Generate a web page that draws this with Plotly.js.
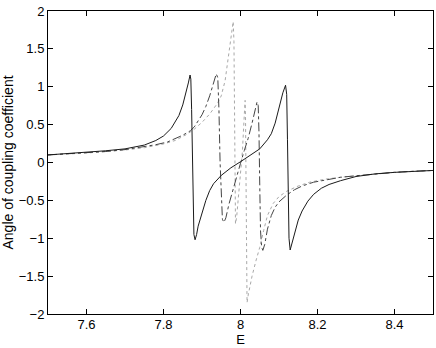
<!DOCTYPE html>
<html>
<head>
<meta charset="utf-8">
<script src="https://cdn.plot.ly/plotly-3.0.1.min.js"></script>
<style>
  body { margin: 0; background: #fff; }
  #plot { width: 436px; height: 348px; }
</style>
</head>
<body>
<div id="plot"></div>
<script>
// solid curve
const solidE = [7.50, 7.55, 7.60, 7.65, 7.70, 7.75, 7.78, 7.80, 7.82, 7.84, 7.85, 7.856, 7.8645, 7.869, 7.871, 7.873, 7.875, 7.877, 7.879, 7.882, 7.886, 7.89, 7.90, 7.91, 7.92, 7.93, 7.95, 7.975, 8.00, 8.025, 8.05, 8.07, 8.08, 8.09, 8.10, 8.11, 8.117, 8.120, 8.122, 8.124, 8.126, 8.129, 8.133, 8.14, 8.15, 8.16, 8.175, 8.19, 8.21, 8.23, 8.26, 8.30, 8.35, 8.40, 8.45, 8.50];
const solidAngle = [0.10, 0.115, 0.13, 0.155, 0.18, 0.23, 0.29, 0.35, 0.45, 0.62, 0.76, 0.87, 1.05, 1.155, 1.10, 0.7, 0.0, -0.6, -0.95, -1.02, -0.95, -0.84, -0.66, -0.50, -0.37, -0.28, -0.17, -0.07, 0.01, 0.09, 0.18, 0.30, 0.38, 0.52, 0.72, 0.92, 1.02, 0.9, 0.3, -0.5, -1.0, -1.155, -1.08, -0.92, -0.76, -0.64, -0.51, -0.42, -0.34, -0.29, -0.24, -0.185, -0.15, -0.13, -0.115, -0.105];

// dash-dot curve
const dashE = [7.50, 7.60, 7.65, 7.70, 7.74, 7.78, 7.81, 7.83, 7.85, 7.87, 7.88, 7.89, 7.90, 7.91, 7.92, 7.93, 7.937, 7.941, 7.944, 7.947, 7.950, 7.953, 7.957, 7.962, 7.97, 7.98, 7.99, 8.00, 8.01, 8.02, 8.03, 8.038, 8.043, 8.046, 8.048, 8.050, 8.052, 8.055, 8.058, 8.063, 8.07, 8.08, 8.09, 8.10, 8.12, 8.14, 8.16, 8.19, 8.22, 8.26, 8.30, 8.35, 8.40, 8.45, 8.50];
const dashAngle = [0.10, 0.125, 0.145, 0.17, 0.20, 0.235, 0.27, 0.31, 0.36, 0.42, 0.47, 0.55, 0.63, 0.74, 0.88, 1.05, 1.17, 1.12, 0.7, 0.0, -0.5, -0.75, -0.79, -0.73, -0.55, -0.36, -0.18, -0.01, 0.16, 0.32, 0.52, 0.69, 0.80, 0.75, 0.4, -0.3, -0.9, -1.12, -1.16, -1.08, -0.88, -0.70, -0.59, -0.52, -0.43, -0.36, -0.31, -0.26, -0.23, -0.195, -0.175, -0.15, -0.13, -0.115, -0.105];

// dotted curve
const dotE = [7.50, 7.60, 7.70, 7.75, 7.80, 7.83, 7.86, 7.88, 7.90, 7.92, 7.94, 7.95, 7.96, 7.97, 7.977, 7.981, 7.983, 7.985, 7.986, 7.987, 7.99, 7.995, 8.00, 8.005, 8.009, 8.012, 8.013, 8.014, 8.015, 8.017, 8.02, 8.03, 8.04, 8.05, 8.06, 8.07, 8.085, 8.10, 8.12, 8.15, 8.18, 8.22, 8.26, 8.30, 8.40, 8.50];
const dotAngle = [0.10, 0.125, 0.165, 0.195, 0.245, 0.29, 0.37, 0.44, 0.53, 0.64, 0.78, 0.88, 1.08, 1.42, 1.70, 1.86, 1.6, 0.5, -0.3, -0.81, -0.72, -0.45, -0.2, 0.15, 0.55, 0.82, 0.6, -0.3, -1.2, -1.85, -1.75, -1.50, -1.30, -1.12, -0.90, -0.70, -0.54, -0.45, -0.38, -0.31, -0.26, -0.22, -0.195, -0.175, -0.13, -0.105];

const xTicks = [7.6, 7.8, 8, 8.2, 8.4];
const xTickText = ['7.6', '7.8', '8', '8.2', '8.4'];
const yTicks = [-2, -1.5, -1, -0.5, 0, 0.5, 1, 1.5, 2];
const yTickText = ['\u22122', '\u22121.5', '\u22121', '\u22120.5', '0', '0.5', '1', '1.5', '2'];

function curve(xs, ys, colour, dash) {
    return {
        x: xs,
        y: ys,
        type: 'scatter',
        mode: 'lines',
        line: {color: colour, width: 1, dash: dash},
        hoverinfo: 'skip',
    };
}

const data = [
    curve(dotE, dotAngle, '#a8a8a8', 'dot'),
    curve(dashE, dashAngle, '#444444', 'dashdot'),
    curve(solidE, solidAngle, '#1a1a1a', 'solid'),
];

const axisCommon = {
    showline: true,
    linecolor: '#000',
    linewidth: 1,
    mirror: 'ticks',
    ticks: 'inside',
    ticklen: 5,
    tickcolor: '#000',
    showgrid: false,
    zeroline: false,
    tickfont: {family: 'Liberation Sans, Arial, sans-serif', size: 13, color: '#000'},
};

const layout = {
    width: 436,
    height: 348,
    margin: {l: 48, r: 3, t: 11, b: 34},
    paper_bgcolor: '#fff',
    plot_bgcolor: '#fff',
    showlegend: false,
    font: {family: 'Liberation Sans, Arial, sans-serif', size: 13, color: '#000'},
    xaxis: Object.assign({}, axisCommon, {
        range: [7.5, 8.5],
        tickvals: xTicks,
        ticktext: xTickText,
        ticklabelstandoff: -2,
        title: {text: 'E', standoff: 3, font: {size: 13}},
    }),
    yaxis: Object.assign({}, axisCommon, {
        range: [-2, 2],
        tickvals: yTicks,
        ticktext: yTickText,
        title: {text: 'Angle of coupling coefficient', standoff: 4, font: {size: 14}},
    }),
};

Plotly.newPlot('plot', data, layout, {displayModeBar: false, staticPlot: true});
</script>
</body>
</html>
